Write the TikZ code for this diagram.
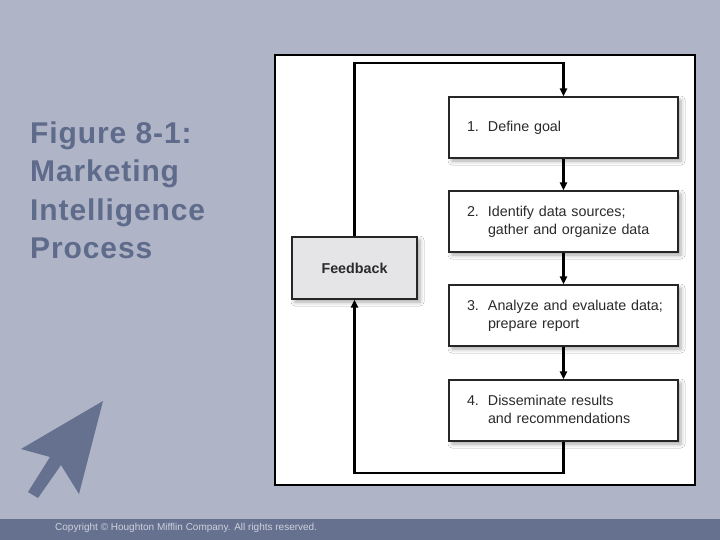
\documentclass[tikz,border=0pt]{standalone}
\usepackage{fontspec}
\setmainfont{Liberation Sans}
\newfontfamily\titlefont[LetterSpace=3]{Liberation Sans}
\usetikzlibrary{arrows.meta,shadows.blur}
\definecolor{bgcol}{HTML}{AFB4C7}
\definecolor{barcol}{HTML}{65718F}
\definecolor{titlecol}{HTML}{5F6B8B}
\definecolor{fbfill}{HTML}{E5E5E8}
\definecolor{txtcol}{HTML}{2A2A2A}
\begin{document}
\begin{tikzpicture}[x=1pt,y=-1pt,
  procbox/.style={draw=black!85,line width=1.2pt,fill=white,minimum width=229pt,minimum height=61pt,
    text width=193pt,inner xsep=18pt,align=left,font=\fontsize{14.3}{18}\selectfont,text=txtcol,
    blur shadow={shadow xshift=3pt,shadow yshift=-3pt,shadow blur radius=4pt,shadow opacity=35}},
  fbbox/.style={draw=black!85,line width=1.2pt,fill=fbfill,minimum width=125pt,minimum height=62pt,
    font=\fontsize{14.3}{18}\selectfont\bfseries,text=txtcol,
    blur shadow={shadow xshift=3pt,shadow yshift=-3pt,shadow blur radius=4pt,shadow opacity=35}},
  flow/.style={line width=2.2pt,-{Triangle[length=8pt,width=7pt]}},
]
\useasboundingbox (0,0) rectangle (720,540);
\fill[bgcol] (0,0) rectangle (720,540);
\fill[barcol] (0,519) rectangle (720,540);
\node[anchor=west,text=bgcol!60!white,font=\fontsize{10}{11}\selectfont,inner sep=0] (copy) at (55,528) {Copyright \textcopyright{} Houghton Mifflin Company. All rights reserved.};
% title
\node[anchor=north west,align=left,text=titlecol,font=\titlefont\bfseries\fontsize{30}{38.5}\selectfont,inner sep=0] (title) at (30,121.5)
  {Figure 8-1:\\Marketing\\Intelligence\\Process};
% cursor arrow
\fill[barcol] (103,401) -- (79,494) -- (61,465) -- (38,498) -- (28,492) -- (50,457) -- (21,449) -- cycle;
% frame
\draw[line width=2pt,fill=white] (275,55) rectangle (695,485);
% boxes
\node[procbox] (b1) at (563.5,127.5) {\begin{tabular}{@{}p{21pt}@{}l@{}}1.&Define goal\end{tabular}};
\node[procbox] (b2) at (563.5,221.5) {\begin{tabular}{@{}p{21pt}@{}l@{}}2.&Identify data sources;\\&gather and organize data\end{tabular}};
\node[procbox] (b3) at (563.5,315.5) {\begin{tabular}{@{}p{21pt}@{}l@{}}3.&Analyze and evaluate data;\\&prepare report\end{tabular}};
\node[procbox] (b4) at (563.5,410.5) {\begin{tabular}{@{}p{21pt}@{}l@{}}4.&Disseminate results\\&and recommendations\end{tabular}};
\node[fbbox] (fb) at (354.5,268) {Feedback};
\coordinate (tl) at (354.5,63);
\coordinate (tr) at (563.5,63);
\coordinate (bl) at (354.5,473);
\coordinate (br) at (563.5,473);
\draw[flow] (fb.north) -- (tl) -- (tr) -- (b1.north);
\draw[flow] (b1) -- (b2);
\draw[flow] (b2) -- (b3);
\draw[flow] (b3) -- (b4);
\draw[flow] (b4.south) -- (br) -- (bl) -- (fb.south);
\end{tikzpicture}
\end{document}
